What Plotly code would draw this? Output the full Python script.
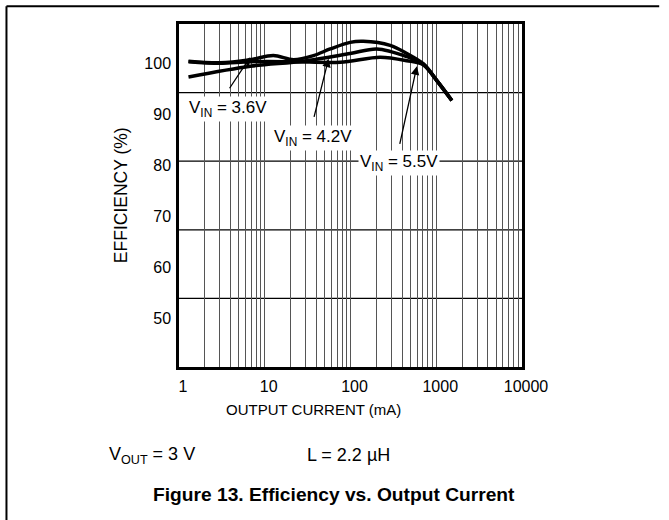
import plotly.graph_objects as go

# ---- data ----
current_36 = [1.29, 3.0, 6.8, 12.6, 21.7, 37, 58, 99, 141, 290, 454, 703, 1016, 1520]
eff_36 = [100.5, 100.2, 100.8, 101.6, 100.8, 101.6, 102.9, 104.2, 104.4, 103.6, 102.0, 100.0, 96.7, 92.8]

current_42 = [1.29, 6.8, 28.3, 99, 203, 454, 703, 1016, 1520]
eff_42 = [97.4, 99.5, 100.5, 102.0, 102.9, 101.4, 100.0, 96.7, 92.8]

current_55 = [1.29, 3.0, 6.8, 21.7, 76, 222, 454, 703, 1016, 1520]
eff_55 = [100.4, 100.1, 100.4, 100.4, 100.3, 101.3, 100.6, 99.8, 96.7, 92.8]

x_decades = [1, 10, 100, 1000, 10000]
x_decade_labels = ["1", "10", "100", "1000", "10000"]
y_ticks = [50, 60, 70, 80, 90, 100]
y_tick_labels = ["50", "60", "70", "80", "90", "100"]

series_names = ["V<sub>IN</sub> = 3.6V", "V<sub>IN</sub> = 4.2V", "V<sub>IN</sub> = 5.5V"]

FONT = "Liberation Sans, Arial, sans-serif"

# all log grid positions (1..9 per decade)
grid_vals, grid_text = [], []
for d, lab in zip(x_decades[:-1], x_decade_labels[:-1]):
    for m in range(1, 10):
        grid_vals.append(d * m)
        grid_text.append(lab if m == 1 else "")
grid_vals.append(x_decades[-1])
grid_text.append(x_decade_labels[-1])

fig = go.Figure()
for xs, ys, nm in [(current_36, eff_36, series_names[0]),
                   (current_42, eff_42, series_names[1]),
                   (current_55, eff_55, series_names[2])]:
    fig.add_trace(go.Scatter(x=xs, y=ys, mode="lines", name=nm,
                             line=dict(color="black", width=3.5, shape="spline", smoothing=0.9),
                             hoverinfo="skip"))

fig.update_layout(
    width=669, height=520,
    margin=dict(l=179, r=147, t=24, b=153),
    paper_bgcolor="white", plot_bgcolor="white",
    showlegend=False,
    font=dict(family=FONT, color="black", size=16),
    xaxis=dict(type="log", range=[0, 4], tickmode="array", tickvals=grid_vals, ticktext=grid_text,
               showgrid=True, gridcolor="#555555", gridwidth=1.2,
               showline=True, mirror=True, linecolor="black", linewidth=2.5,
               ticks="", tickfont=dict(size=16), ticklabelstandoff=3, ticklabelshift=4,
               zeroline=False),
    yaxis=dict(range=[40.5, 107.8], tickmode="array", tickvals=y_ticks, ticktext=y_tick_labels,
               showgrid=False, showline=True, mirror=True, linecolor="black", linewidth=2.5,
               ticks="", tickfont=dict(size=16), ticklabelstandoff=2, zeroline=False),
)

# horizontal grid lines (5 equal divisions of the plot height)
for k in range(1, 5):
    fig.add_shape(type="line", xref="paper", yref="paper", x0=0, x1=1, y0=k / 5, y1=k / 5,
                  line=dict(color="black", width=1.3), layer="below")

# figure frame (top and left)
fig.add_shape(type="line", xref="paper", yref="paper", x0=-0.503, x1=-0.503, y0=-0.46, y1=1.0516,
              line=dict(color="black", width=2))
fig.add_shape(type="line", xref="paper", yref="paper", x0=-0.503, x1=1.40, y0=1.0516, y1=1.0516,
              line=dict(color="black", width=2))

# arrows (tail -> tip), in log10 x units
arrows = [((0.578, 94.9), (0.831, 101.3)),
          ((1.571, 89.3), (1.744, 101.0)),
          ((2.571, 84.0), (2.774, 99.5))]
for (tx, ty), (hx, hy) in arrows:
    fig.add_annotation(x=hx, y=hy, ax=tx, ay=ty, xref="x", yref="y", axref="x", ayref="y",
                       text="", showarrow=True, arrowhead=2, arrowsize=1.3, arrowwidth=1.3,
                       arrowcolor="black")

labels_pos = [(0.575, 91.2), (1.565, 85.5), (2.568, 80.6)]
for (lx, ly), nm in zip(labels_pos, series_names):
    fig.add_annotation(x=lx, y=ly, xref="x", yref="y", text=nm, showarrow=False,
                       font=dict(size=17, family=FONT), bgcolor="white", borderpad=1)

# axis titles
fig.add_annotation(x=-0.171, y=0.502, xref="paper", yref="paper", text="EFFICIENCY (%)",
                   textangle=-90, showarrow=False, font=dict(size=17.5, family=FONT),
                   xanchor="center", yanchor="middle")
fig.add_annotation(x=0.391, y=-0.123, xref="paper", yref="paper", text="OUTPUT CURRENT (mA)",
                   showarrow=False, font=dict(size=15, family=FONT), xanchor="center", yanchor="middle")

# conditions
fig.add_annotation(x=-0.2097, y=-0.2574, xref="paper", yref="paper", text="V<sub>OUT</sub> = 3 V",
                   showarrow=False, font=dict(size=18, family=FONT), xanchor="left", yanchor="middle")
fig.add_annotation(x=0.368, y=-0.2574, xref="paper", yref="paper", text="L = 2.2 µH",
                   showarrow=False, font=dict(size=18, family=FONT), xanchor="left", yanchor="middle")

# caption
fig.add_annotation(x=0.453, y=-0.371, xref="paper", yref="paper",
                   text="<b>Figure 13. Efficiency vs. Output Current</b>",
                   showarrow=False, font=dict(size=19.2, family=FONT), xanchor="center", yanchor="middle")

fig.write_html("out.html", config={"displayModeBar": False},
               post_script="document.body.style.margin='0';document.body.style.padding='0';")
